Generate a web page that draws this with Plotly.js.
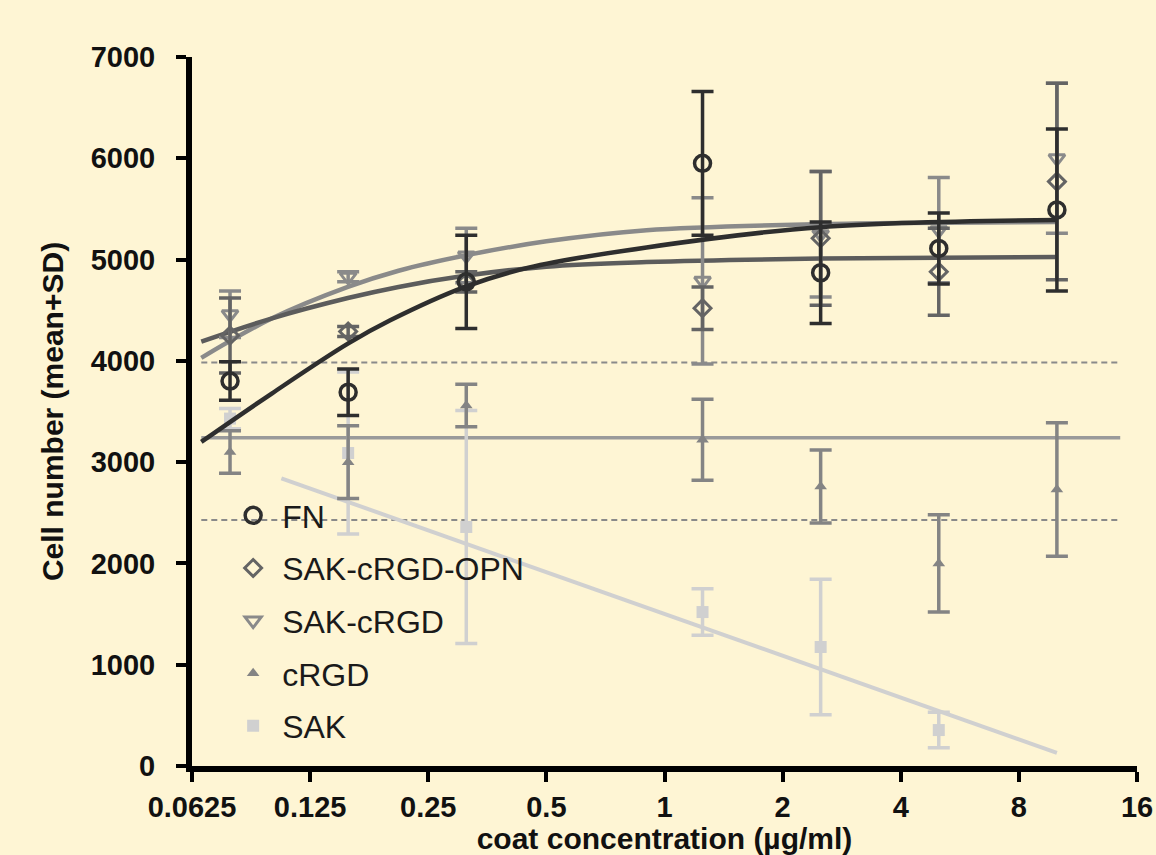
<!DOCTYPE html>
<html>
<head>
<meta charset="utf-8">
<script src="https://cdn.plot.ly/plotly-3.0.1.min.js"></script>
<style>
  html, body { margin: 0; padding: 0; background: #fef5d4; }
  #chart { width: 1156px; height: 855px; }
</style>
</head>
<body>
<div id="chart"></div>
<script>
// ---- Data ----
const concentrations = [0.078125, 0.15625, 0.3125, 1.25, 2.5, 5, 10];
const sakConcentrations = [0.078125, 0.15625, 0.3125, 1.25, 2.5, 5];

const fnMean = [3800, 3690, 4780, 5950, 4870, 5110, 5490];
const fnSD = [190, 230, 460, 710, 500, 350, 800];

const opnMean = [4250, 4290, 4780, 4520, 5210, 4880, 5770];
const opnSD = [370, 50, 100, 210, 660, 430, 970];

const sakRgdMean = [4460, 4830, 5040, 4790, 5250, 5290, 6000];
const sakRgdSD = [230, 50, 270, 820, 620, 520, 740];

const crgdMean = [3100, 3000, 3560, 3220, 2760, 2000, 2730];
const crgdSD = [210, 360, 210, 400, 360, 480, 660];

const sakMean = [3430, 3090, 2360, 1520, 1175, 355];
const sakSD = [100, 800, 1150, 230, 670, 175];

// fitted curves
const fnFitX = [0.066, 0.1, 0.156, 0.2, 0.31, 0.45, 0.9, 2.5, 10];
const fnFitY = [3200, 3680, 4170, 4400, 4730, 4920, 5120, 5320, 5390];
const sakRgdFitX = [0.066, 0.1, 0.156, 0.21, 0.31, 0.5, 0.9, 2.5, 10];
const sakRgdFitY = [4030, 4420, 4730, 4890, 5040, 5180, 5290, 5350, 5370];
const opnFitX = [0.066, 0.1, 0.156, 0.21, 0.31, 0.5, 0.9, 2.5, 10];
const opnFitY = [4190, 4420, 4620, 4730, 4840, 4930, 4975, 5010, 5025];
const crgdFitX = [0.066, 14.5];
const crgdFitY = [3240, 3240];
const sakFitX = [0.1056, 10];
const sakFitY = [2840, 130];
const refLineX = [0.066, 14.5];
const refUpperY = [3985, 3985];
const refLowerY = [2430, 2430];

const xTickVals = [0.0625, 0.125, 0.25, 0.5, 1, 2, 4, 8, 16];
const xTickText = ["0.0625", "0.125", "0.25", "0.5", "1", "2", "4", "8", "16"];
const yTickVals = [0, 1000, 2000, 3000, 4000, 5000, 6000, 7000];

// ---- Styles ----
const cFN = "#2e2e2e", cOPN = "#646464", cSR = "#8a8a8a", cCR = "#848484", cSAK = "#d0d0d0";

function line(x, y, color, width, dash) {
  return { x: x, y: y, type: "scatter", mode: "lines", showlegend: false, hoverinfo: "skip",
           line: { color: color, width: width, dash: dash || "solid", shape: "spline", smoothing: 1 } };
}
function pts(name, x, y, sd, color, symbol, size, rank, lw) {
  return { name: name, x: x, y: y, type: "scatter", mode: "markers", legendrank: rank,
           legendgroup: name,
           marker: { symbol: symbol, size: size, color: color, line: { color: color, width: lw } },
           error_y: { type: "data", array: sd, visible: true, color: color, thickness: 3.5, width: 11 } };
}

const traces = [
  line(refLineX, refUpperY, "#8a8a8a", 2, "6px,4px"),
  line(refLineX, refLowerY, "#8a8a8a", 2, "6px,4px"),
  line(sakFitX, sakFitY, cSAK, 4),
  line(crgdFitX, crgdFitY, "#9a9a9a", 3.5),
  pts("SAK", sakConcentrations, sakMean, sakSD, cSAK, "square", 12, 5, 0),
  pts("cRGD", concentrations, crgdMean, crgdSD, cCR, "triangle-up", 11, 4, 0),
  line(sakRgdFitX, sakRgdFitY, cSR, 4.5),
  line(opnFitX, opnFitY, "#5c5c5c", 4.5),
  pts("SAK-cRGD", concentrations, sakRgdMean, sakRgdSD, cSR, "triangle-down-open", 14, 3, 3),
  pts("SAK-cRGD-OPN", concentrations, opnMean, opnSD, cOPN, "diamond-open", 13, 2, 3),
  line(fnFitX, fnFitY, cFN, 4.5),
  pts("FN", concentrations, fnMean, fnSD, cFN, "circle-open", 16, 1, 3.5)
];

const axisFont = { family: "Liberation Sans, Arial, sans-serif", size: 29, color: "#111", weight: "bold" };
const titleFont = { family: "Liberation Sans, Arial, sans-serif", size: 30, color: "#111", weight: "bold" };

const layout = {
  width: 1156, height: 855,
  paper_bgcolor: "#fef5d4", plot_bgcolor: "#fef5d4",
  margin: { l: 192, r: 19, t: 57, b: 89 },
  showlegend: true,
  legend: {
    x: 0.034, y: 0.392, xanchor: "left", yanchor: "top",
    bgcolor: "rgba(0,0,0,0)", borderwidth: 0,
    font: { family: "Liberation Sans, Arial, sans-serif", size: 32, color: "#1a1a1a" },
    traceorder: "grouped", tracegroupgap: 8, itemwidth: 48
  },
  xaxis: {
    type: "log",
    range: [Math.log10(0.0625), Math.log10(16)],
    tickmode: "array", tickvals: xTickVals, ticktext: xTickText,
    showgrid: false, zeroline: false,
    showline: true, linecolor: "#000", linewidth: 6,
    ticks: "outside", ticklen: 10, tickwidth: 4, tickcolor: "#000",
    tickfont: axisFont, ticklabeloverflow: "allow",
    title: { text: "coat concentration (µg/ml)", font: titleFont, standoff: 10 }
  },
  yaxis: {
    range: [0, 7000],
    tickmode: "array", tickvals: yTickVals,
    showgrid: false, zeroline: false,
    showline: true, linecolor: "#000", linewidth: 6,
    ticks: "outside", ticklen: 10, tickwidth: 4, tickcolor: "#000",
    tickfont: axisFont, ticklabelstandoff: 15,
    title: { text: "Cell number (mean+SD)", font: titleFont, standoff: 20 }
  }
};

Plotly.newPlot("chart", traces, layout, { displayModeBar: false, staticPlot: true });
</script>
</body>
</html>
